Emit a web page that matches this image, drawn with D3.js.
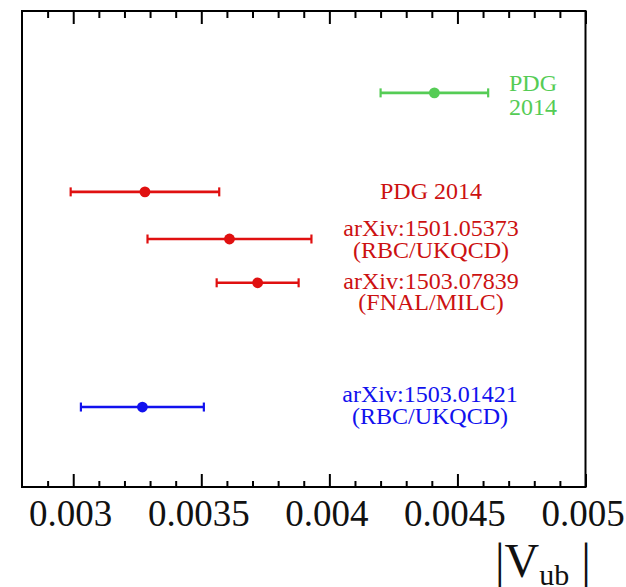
<!DOCTYPE html>
<html>
<head>
<meta charset="utf-8">
<script src="https://cdn.jsdelivr.net/npm/d3@7/dist/d3.min.js"></script>
<style>
  html, body { margin: 0; padding: 0; background: #fff; }
  svg { display: block; }
  text { font-family: "Liberation Serif", "Times New Roman", "DejaVu Serif", serif; }
</style>
</head>
<body>
<svg id="chart" width="626" height="587"></svg>
<script>
// ---- data ----
const names = ["PDG 2014 (green)", "PDG 2014", "arXiv:1501.05373", "arXiv:1503.07839", "arXiv:1503.01421"];
const centralValues = [0.00441, 0.00328, 0.00361, 0.00372, 0.00327];
const errLow  = [0.00021, 0.00029, 0.00032, 0.00016, 0.00024];
const errHigh = [0.00021, 0.00029, 0.00032, 0.00016, 0.00024];
const rowPositions = [8.28, 6.20, 5.21, 4.29, 1.68];
const colors = ["#55cc55", "#e01010", "#e01010", "#e01010", "#1111ee"];
const textColors = ["#55cc55", "#cc1111", "#cc1111", "#cc1111", "#1111ee"];
const labelLines = [
  ["PDG", "2014"],
  ["PDG 2014"],
  ["arXiv:1501.05373", "(RBC/UKQCD)"],
  ["arXiv:1503.07839", "(FNAL/MILC)"],
  ["arXiv:1503.01421", "(RBC/UKQCD)"]
];
const majorTicks = [0.003, 0.0035, 0.004, 0.0045, 0.005];
const majorTickLabels = ["0.003", "0.0035", "0.004", "0.0045", "0.005"];
const xDomain = [0.0028, 0.005];

// ---- layout ----
const svg = d3.select("#chart");
const mLeft = 22, mRight = 585.5, mTop = 11, mBottom = 487;
const x = d3.scaleLinear().domain(xDomain).range([mLeft, mRight]);
const y = d3.scaleLinear().domain([0, 10]).range([mBottom, mTop]);

const minorTicks = d3.range(29, 50).map(d => d / 10000).filter(v => !majorTicks.some(m => Math.abs(m - v) < 1e-9));

// bottom axis
const gB = svg.append("g").attr("transform", `translate(0,${mBottom})`);
gB.call(d3.axisBottom(x).tickValues(majorTicks).tickSize(-13).tickSizeOuter(0).tickFormat((d, i) => majorTickLabels[i]));
const gBm = svg.append("g").attr("transform", `translate(0,${mBottom})`);
gBm.call(d3.axisBottom(x).tickValues(minorTicks).tickSize(-6).tickSizeOuter(0).tickFormat(""));
// top axis
const gT = svg.append("g").attr("transform", `translate(0,${mTop})`);
gT.call(d3.axisTop(x).tickValues(majorTicks).tickSize(-13).tickSizeOuter(0).tickFormat(""));
const gTm = svg.append("g").attr("transform", `translate(0,${mTop})`);
gTm.call(d3.axisTop(x).tickValues(minorTicks).tickSize(-7).tickSizeOuter(0).tickFormat(""));

svg.selectAll(".domain").remove();
svg.selectAll(".tick line").attr("stroke", "#000").attr("stroke-width", 2);
gB.selectAll(".tick text")
  .attr("font-size", 37).attr("fill", "#111")
  .attr("y", 0).attr("dy", 0)
  .attr("transform", "translate(-3,39)")
  .style("font-family", '"Liberation Serif", "Times New Roman", serif');

// frame
svg.append("rect")
  .attr("x", mLeft).attr("y", mTop)
  .attr("width", mRight - mLeft).attr("height", mBottom - mTop)
  .attr("fill", "none").attr("stroke", "#000").attr("stroke-width", 2);

// error bars
const rows = names.map((n, i) => ({
  name: n, v: centralValues[i], lo: centralValues[i] - errLow[i], hi: centralValues[i] + errHigh[i],
  pos: rowPositions[i], color: colors[i], tcolor: textColors[i], lines: labelLines[i]
}));

const g = svg.append("g");
const cap = 4.5;
rows.forEach(r => {
  const cy = y(r.pos);
  g.append("line").attr("x1", x(r.lo)).attr("x2", x(r.hi)).attr("y1", cy).attr("y2", cy)
    .attr("stroke", r.color).attr("stroke-width", 2.6);
  [r.lo, r.hi].forEach(v => {
    g.append("line").attr("x1", x(v)).attr("x2", x(v)).attr("y1", cy - cap).attr("y2", cy + cap)
      .attr("stroke", r.color).attr("stroke-width", 2.2);
  });
  g.append("circle").attr("cx", x(r.v)).attr("cy", cy).attr("r", 5.4).attr("fill", r.color);
});

// labels (each label one text element; lines as tspans)
const labelSpecs = [
  { cx: 533, base: 91, gap: 24 },
  { cx: 431, base: 199, gap: 22 },
  { cx: 431, base: 236, gap: 22 },
  { cx: 431, base: 289, gap: 21 },
  { cx: 430, base: 402, gap: 22 }
];
rows.forEach((r, i) => {
  const spec = labelSpecs[i];
  const t = svg.append("text").attr("x", spec.cx).attr("y", spec.base)
    .attr("text-anchor", "middle").attr("font-size", 24).attr("fill", r.tcolor);
  r.lines.forEach((line, j) => {
    t.append("tspan").attr("x", spec.cx).attr("dy", j === 0 ? 0 : spec.gap).text(line);
  });
});

// axis title |V_ub |
const title = svg.append("text").attr("x", 495).attr("y", 577).attr("font-size", 48).attr("fill", "#111");
title.append("tspan").text("|V");
title.append("tspan").attr("font-size", 30).attr("dy", 8).text("ub");
title.append("tspan").attr("dy", -8).text(" |");
</script>
</body>
</html>
